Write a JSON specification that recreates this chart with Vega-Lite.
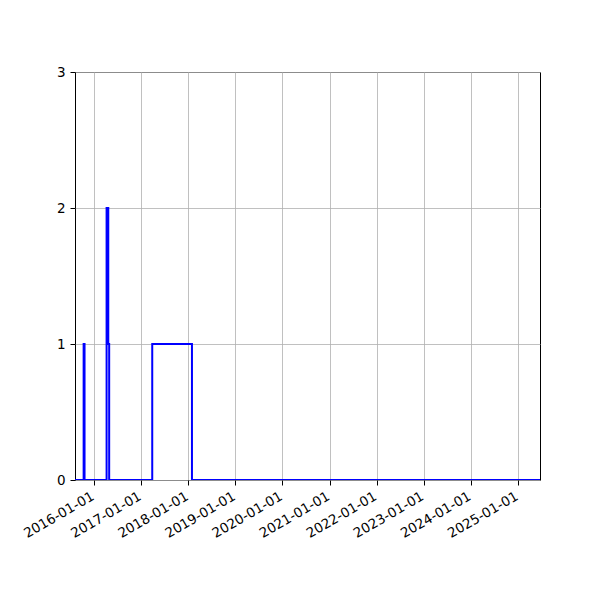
{
  "$schema": "https://vega.github.io/schema/vega-lite/v6.json",
  "width": 465,
  "height": 408,
  "autosize": {"type": "none"},
  "padding": {"left": 75, "top": 72, "right": 60, "bottom": 120},
  "background": "white",
  "config": {
    "font": "DejaVu Sans",
    "view": {"stroke": "black", "strokeWidth": 1},
    "axis": {
      "labelFont": "DejaVu Sans",
      "labelFontSize": 13.5,
      "labelColor": "black",
      "tickColor": "black",
      "tickSize": 5,
      "domain": false,
      "grid": true,
      "gridColor": "#b0b0b0",
      "gridWidth": 0.8,
      "title": null
    }
  },
  "data": {
    "values": [
      {"date": "2015-08-06", "count": 0},
      {"date": "2015-10-12", "count": 1},
      {"date": "2015-10-19", "count": 0},
      {"date": "2016-04-07", "count": 2},
      {"date": "2016-04-20", "count": 1},
      {"date": "2016-04-27", "count": 0},
      {"date": "2017-03-27", "count": 1},
      {"date": "2018-01-29", "count": 0},
      {"date": "2025-06-20", "count": 0}
    ]
  },
  "mark": {"type": "line", "color": "#0000ff", "strokeWidth": 2, "interpolate": "step-after", "clip": true},
  "encoding": {
    "x": {
      "field": "date",
      "type": "temporal",
      "scale": {"type": "utc", "domain": [{"year": 2015, "month": 8, "date": 6, "utc": true}, {"year": 2025, "month": 6, "date": 20, "utc": true}]},
      "axis": {
        "values": [
          {"year": 2016, "month": 1, "date": 1, "utc": true},
          {"year": 2017, "month": 1, "date": 1, "utc": true},
          {"year": 2018, "month": 1, "date": 1, "utc": true},
          {"year": 2019, "month": 1, "date": 1, "utc": true},
          {"year": 2020, "month": 1, "date": 1, "utc": true},
          {"year": 2021, "month": 1, "date": 1, "utc": true},
          {"year": 2022, "month": 1, "date": 1, "utc": true},
          {"year": 2023, "month": 1, "date": 1, "utc": true},
          {"year": 2024, "month": 1, "date": 1, "utc": true},
          {"year": 2025, "month": 1, "date": 1, "utc": true}
        ],
        "labelExpr": "utcFormat(datum.value, '%Y-%m-%d')",
        "labelAngle": -30,
        "labelAlign": "right",
        "labelBaseline": "top",
        "labelPadding": 4,
        "labelOffset": -5,
        "labelOverlap": false,
        "labelFlush": false
      }
    },
    "y": {
      "field": "count",
      "type": "quantitative",
      "scale": {"domain": [0, 3], "nice": false},
      "axis": {"values": [0, 1, 2, 3], "format": "d", "labelPadding": 5}
    }
  }
}
